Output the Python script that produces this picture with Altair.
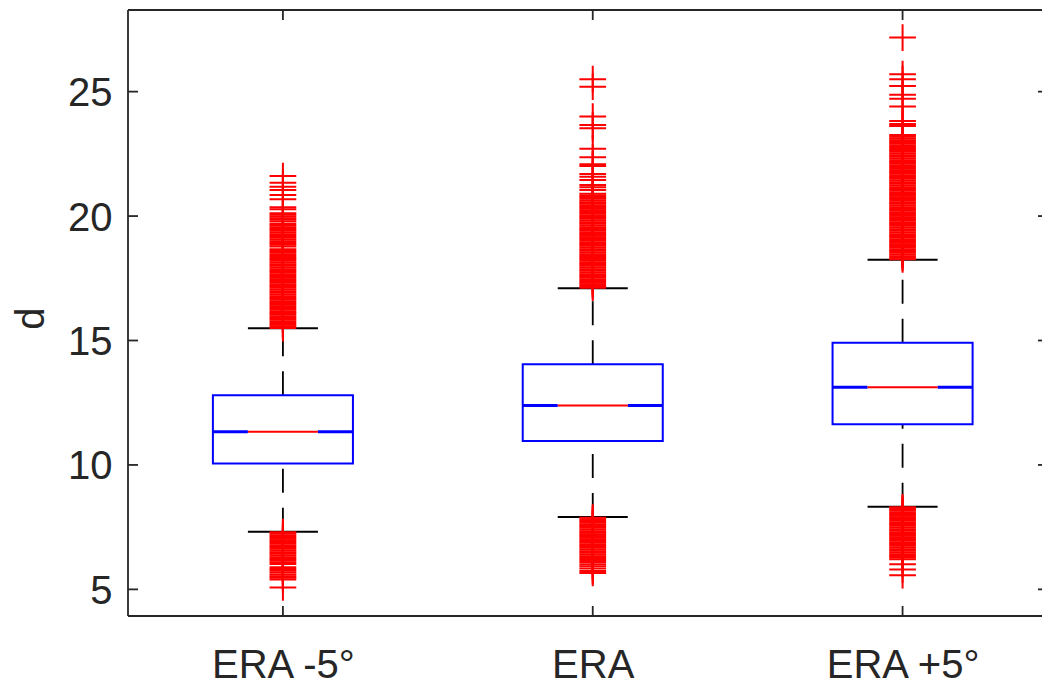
import json
import altair as alt
import pandas as pd

# ---------------- data ----------------
categories = ["ERA -5°", "ERA", "ERA +5°"]
q1 = [10.06, 10.96, 11.63]
median = [11.33, 12.39, 13.12]
q3 = [12.80, 14.05, 14.91]
whisker_low = [7.32, 7.91, 8.32]
whisker_high = [15.49, 17.10, 18.24]

outliers_era_m5 = [
    15.50, 15.57, 15.63, 15.70, 15.77, 15.84, 15.90, 15.97, 16.04, 16.11,
    16.17, 16.24, 16.31, 16.38, 16.44, 16.51, 16.58, 16.65, 16.71, 16.78,
    16.85, 16.92, 16.98, 17.05, 17.12, 17.19, 17.25, 17.32, 17.39, 17.46,
    17.52, 17.59, 17.66, 17.73, 17.79, 17.86, 17.93, 18.00, 18.06, 18.13,
    18.20, 18.27, 18.33, 18.40, 18.47, 18.54, 18.60, 18.67, 18.78, 18.85,
    18.92, 18.99, 19.06, 19.13, 19.20, 19.27, 19.34, 19.41, 19.48, 19.55,
    19.62, 19.68, 19.78, 19.85, 19.91, 19.98, 20.05, 20.11,
    20.27, 20.35, 20.68, 20.85, 21.05, 21.18, 21.34, 21.61,
    7.30, 7.24, 7.17, 7.10, 7.03, 6.97, 6.90, 6.83, 6.76, 6.70,
    6.63, 6.56, 6.49, 6.43, 6.36, 6.29, 6.22, 6.16, 6.09, 6.02,
    5.89, 5.82, 5.75, 5.68, 5.60, 5.53, 5.47, 5.40, 5.08,
]
outliers_era = [
    17.12, 17.19, 17.26, 17.32, 17.39, 17.46, 17.53, 17.59, 17.66, 17.73,
    17.80, 17.86, 17.93, 18.00, 18.07, 18.13, 18.20, 18.27, 18.34, 18.40,
    18.47, 18.54, 18.61, 18.67, 18.74, 18.81, 18.88, 18.94, 19.01, 19.08,
    19.15, 19.21, 19.28, 19.35, 19.42, 19.48, 19.55, 19.62, 19.69, 19.75,
    19.82, 19.89, 19.96, 20.02, 20.09, 20.16, 20.23, 20.29, 20.36, 20.43,
    20.50, 20.56, 20.63, 20.70, 20.77, 20.83, 20.90,
    21.05, 21.16, 21.25, 21.45, 21.58, 21.69, 22.01, 22.08, 22.36, 22.70,
    23.53, 23.66, 24.00, 25.20, 25.50,
    7.88, 7.82, 7.75, 7.68, 7.61, 7.55, 7.48, 7.41, 7.34, 7.28,
    7.21, 7.14, 7.07, 7.01, 6.94, 6.87, 6.80, 6.74, 6.67, 6.60,
    6.53, 6.47, 6.40, 6.33, 6.26, 6.18, 6.10, 6.01, 5.93, 5.84,
    5.74, 5.66,
]
outliers_era_p5 = [
    18.26, 18.33, 18.39, 18.46, 18.53, 18.60, 18.66, 18.73, 18.80, 18.87,
    18.93, 19.00, 19.07, 19.14, 19.20, 19.27, 19.34, 19.41, 19.47, 19.54,
    19.61, 19.68, 19.74, 19.81, 19.88, 19.95, 20.01, 20.08, 20.15, 20.22,
    20.28, 20.35, 20.42, 20.49, 20.55, 20.62, 20.69, 20.76, 20.82, 20.89,
    20.96, 21.03, 21.09, 21.16, 21.23, 21.30, 21.36, 21.43, 21.50, 21.57,
    21.63, 21.70, 21.77, 21.84, 21.90, 21.97, 22.04, 22.11, 22.17, 22.24,
    22.31, 22.38, 22.44, 22.51, 22.58, 22.65, 22.71, 22.78, 22.85, 22.92,
    22.98, 23.05, 23.12, 23.19, 23.26,
    23.62, 23.70, 23.82, 24.40, 24.71, 24.87, 25.23, 25.50, 25.70, 27.17,
    8.30, 8.23, 8.17, 8.10, 8.03, 7.96, 7.90, 7.83, 7.76, 7.69,
    7.63, 7.56, 7.49, 7.42, 7.36, 7.29, 7.22, 7.15, 7.09, 7.02,
    6.95, 6.88, 6.82, 6.75, 6.68, 6.61, 6.55, 6.48, 6.41, 6.34,
    6.28, 6.21, 6.01, 5.80, 5.57,
]
y_ticks = [5, 10, 15, 20, 25]
y_domain = [3.93, 28.28]

# ---------------- layout / style ----------------
W, H = 914, 606
X_DOMAIN = [0.5, 3.45]
BOX_HALF = 0.226
INNER_HALF = 0.113
FONT = "Liberation Sans"
AX = "#262626"
BLUE = "#0000FF"
RED = "#FF0000"

positions = [1, 2, 3]
stats = pd.DataFrame({
    "cat": categories, "pos": positions, "q1": q1, "med": median, "q3": q3,
    "lo": whisker_low, "hi": whisker_high,
})
stats["bl"] = stats["pos"] - BOX_HALF
stats["br"] = stats["pos"] + BOX_HALF
stats["il"] = stats["pos"] - INNER_HALF
stats["ir"] = stats["pos"] + INNER_HALF

out_rows = []
for p, vals in zip(positions, [outliers_era_m5, outliers_era, outliers_era_p5]):
    for v in vals:
        out_rows.append({"pos": p, "v": v})
outs = pd.DataFrame(out_rows)
ticks_df = pd.DataFrame({"t": y_ticks})
one = pd.DataFrame({"k": [0]})

xs = alt.Scale(domain=X_DOMAIN, nice=False, zero=False)
ys = alt.Scale(domain=y_domain, nice=False, zero=False)


def X(f):
    return alt.X(f, type="quantitative", scale=xs, title=None)


def Y(f):
    return alt.Y(f, type="quantitative", scale=ys, title="d")


label_expr = json.dumps(categories, ensure_ascii=False) + "[datum.value - 1]"

base = alt.Chart(stats)

# invisible marks carrying the axes
axes = base.mark_point(opacity=0).encode(
    x=alt.X("pos:Q", scale=xs, title=None, axis=alt.Axis(
        values=positions, labelExpr=label_expr, labelFlush=False,
        labelPadding=29, labelOverlap=False)),
    y=alt.Y("med:Q", scale=ys, title="d", axis=alt.Axis(
        values=y_ticks, labelFlush=False, labelPadding=16, labelOffset=2,
        titleX=-85, titleY=308, titleBaseline="alphabetic", titleAlign="center")),
)

whisk_lo = base.mark_rule(color="black", strokeWidth=1.8, strokeDash=[24, 15]).encode(
    x=X("pos"), y=Y("lo"), y2="q1")
whisk_hi = base.mark_rule(color="black", strokeWidth=1.8, strokeDash=[24, 15]).encode(
    x=X("pos"), y=Y("q3"), y2="hi")
cap_lo = base.mark_rule(color="black", strokeWidth=2).encode(x=X("il"), x2="ir", y=Y("lo"))
cap_hi = base.mark_rule(color="black", strokeWidth=2).encode(x=X("il"), x2="ir", y=Y("hi"))
box = base.mark_rect(filled=False, color=BLUE, strokeWidth=2).encode(
    x=X("bl"), x2="br", y=Y("q1"), y2="q3")
med_l = base.mark_rule(color=BLUE, strokeWidth=3).encode(x=X("bl"), x2="il", y=Y("med"))
med_r = base.mark_rule(color=BLUE, strokeWidth=3).encode(x=X("ir"), x2="br", y=Y("med"))
med_c = base.mark_rule(color=RED, strokeWidth=2).encode(x=X("il"), x2="ir", y=Y("med"))

pts = alt.Chart(outs).mark_point(
    shape="M-1,0H1M0,-1V1", size=713, filled=False, color=RED,
    strokeWidth=2, opacity=1).encode(x=X("pos"), y=Y("v"))

tk = dict(color=AX, strokeWidth=1.8)
t_left = alt.Chart(ticks_df).mark_rule(**tk).encode(
    y=Y("t"), x=alt.value(0), x2=alt.value(10))
t_right = alt.Chart(ticks_df).mark_rule(**tk).encode(
    y=Y("t"), x=alt.value(W - 4), x2=alt.value(W))
t_bottom = base.mark_rule(**tk).encode(x=X("pos"), y=alt.value(H - 10), y2=alt.value(H))
t_top = base.mark_rule(**tk).encode(x=X("pos"), y=alt.value(0), y2=alt.value(10))

# frame (left, top, bottom; the right side lies beyond the picture)
frame_left = alt.Chart(one).mark_rule(**tk).encode(
    x=alt.value(0), y=alt.value(0), y2=alt.value(H))
frame_top = alt.Chart(one).mark_rule(**tk).encode(
    x=alt.value(0), x2=alt.value(W), y=alt.value(0))
frame_bottom = alt.Chart(one).mark_rule(**tk).encode(
    x=alt.value(0), x2=alt.value(W), y=alt.value(H))

chart = alt.layer(
    axes, whisk_lo, whisk_hi, cap_lo, cap_hi, box, med_l, med_r, med_c,
    pts, t_left, t_right, t_bottom, t_top, frame_left, frame_top, frame_bottom,
).properties(
    width=W, height=H, background="white",
    autosize=alt.AutoSizeParams(type="none"),
    padding={"left": 120, "top": 2, "right": 0, "bottom": 69},
).configure_view(strokeWidth=0).configure_axis(
    ticks=False, domain=False, grid=False,
    labelFontSize=40, labelColor=AX, labelFont=FONT,
    titleFontSize=40, titleFont=FONT, titleColor=AX, titleFontWeight="normal",
)

chart.save("out.html", embed_options={"renderer": "svg", "actions": False})
